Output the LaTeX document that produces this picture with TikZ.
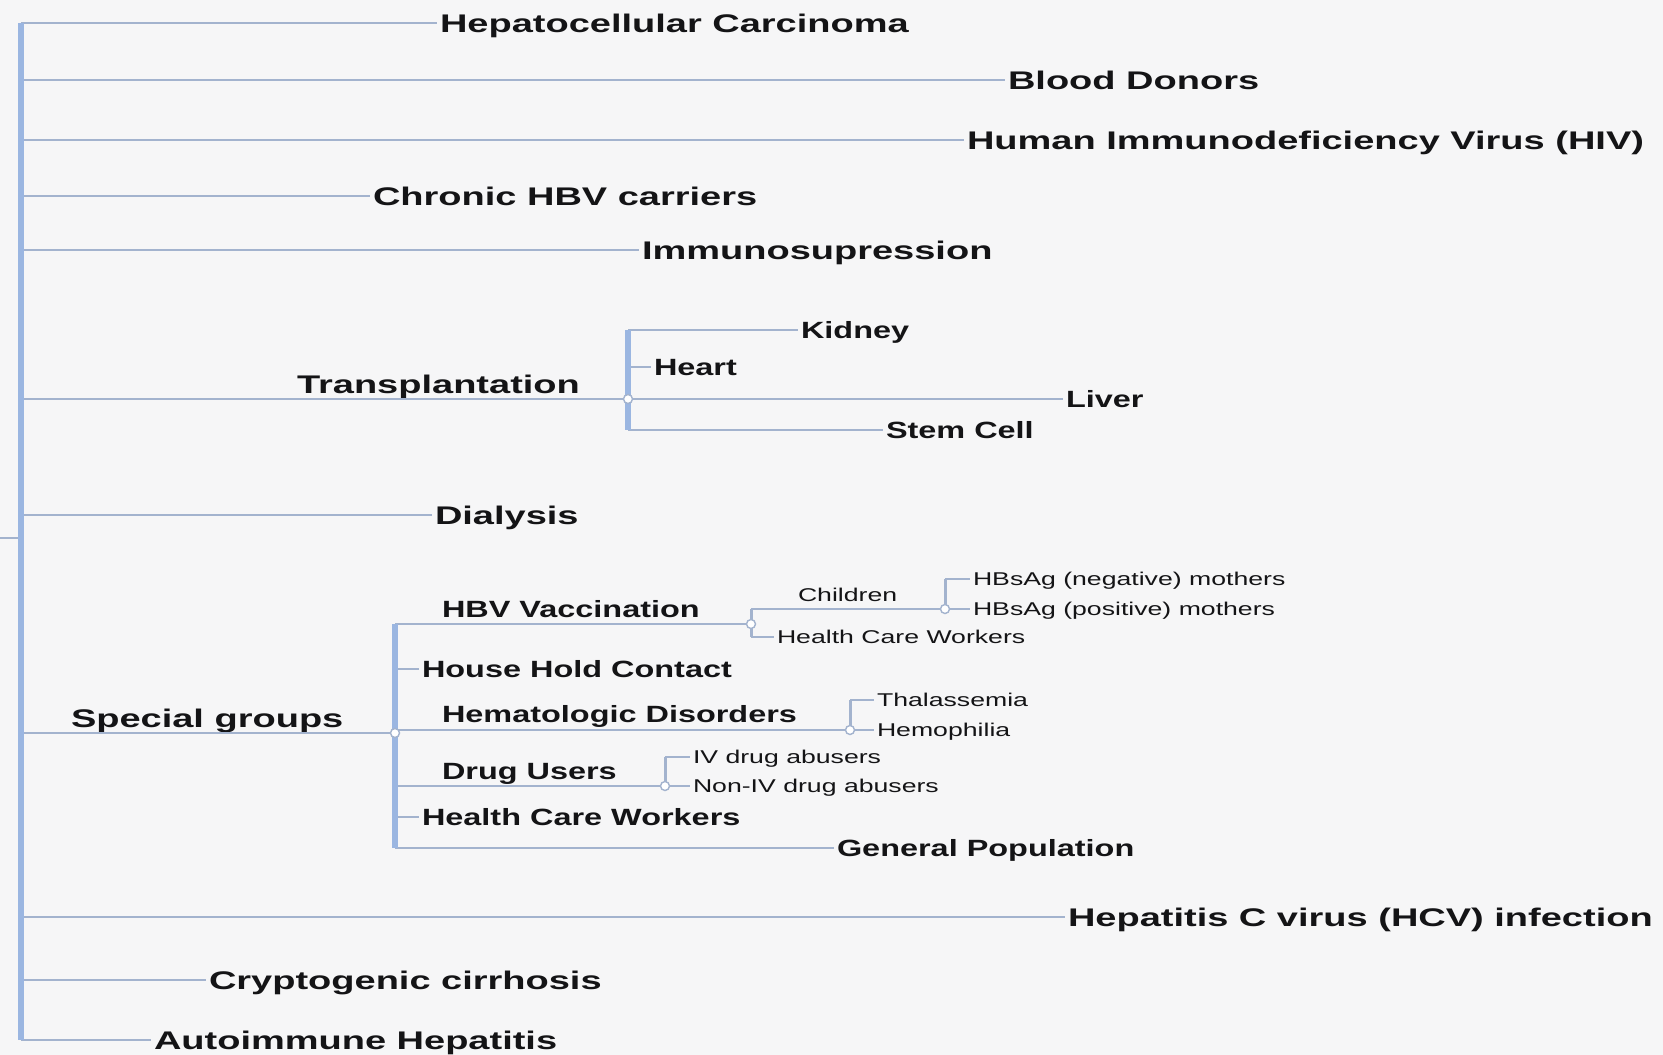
\documentclass[tikz,border=0pt]{standalone}
\usepackage{fontspec}
\usepackage{graphicx}
\setmainfont{Liberation Sans}
\definecolor{bgc}{RGB}{246,246,247}
\definecolor{linec}{RGB}{163,179,206}
\definecolor{hubc}{RGB}{155,182,225}
\definecolor{txtc}{RGB}{20,20,22}
\newcommand\Lone[1]{\scalebox{1.49}[1]{\fontsize{25.5}{26}\selectfont\bfseries #1}}
\newcommand\Ltwo[1]{\scalebox{1.38}[1]{\fontsize{23.5}{24}\selectfont\bfseries #1}}
\newcommand\Lsm[1]{\scalebox{1.44}[1]{\fontsize{18.5}{19}\selectfont #1}}
\tikzset{
  lbl/.style={inner xsep=3pt, inner ysep=0pt, outer sep=0pt, text depth=0pt, text=txtc},
  l1/.style={lbl, text height=18.3pt},
  l2/.style={lbl, text height=16.8pt},
  ls/.style={lbl, text height=13.2pt},
  br/.style={draw=linec, line width=2pt},
  brs/.style={draw=linec, line width=1.6pt},
  trunkline/.style={draw=hubc, line width=6.5pt},
  hubline/.style={draw=hubc, line width=5.5pt},
  hubsmall/.style={draw=linec, line width=3pt},
  hubdot/.style={circle, minimum size=9pt, inner sep=0pt, fill=white, draw=linec, line width=1.4pt}
}
\begin{document}
\begin{tikzpicture}[x=1pt,y=-1pt]
\fill[bgc] (0,0) rectangle (1663,1055);
\useasboundingbox (0,0) rectangle (1663,1055);

% main trunk
\coordinate (trunkT) at (21,23);
\coordinate (trunkB) at (21,1040);
\coordinate (root) at (0,538);

% level 1 labels
\node[l1,anchor=west] (hcc) at (437,23) {\Lone{Hepatocellular Carcinoma}};
\node[l1,anchor=west] (bd) at (1005,80) {\Lone{Blood Donors}};
\node[l1,anchor=west] (hiv) at (964,140) {\Lone{Human Immunodeficiency Virus (HIV)}};
\node[l1,anchor=west] (chr) at (370,196) {\Lone{Chronic HBV carriers}};
\node[l1,anchor=west] (imm) at (639,250) {\Lone{Immunosupression}};
\node[l1,anchor=south west] (tr) at (294,393) {\Lone{Transplantation}};
\node[l1,anchor=west] (dia) at (432,515) {\Lone{Dialysis}};
\node[l1,anchor=south west] (sg) at (68,727) {\Lone{Special groups}};
\node[l1,anchor=west] (hcv) at (1065,917) {\Lone{Hepatitis C virus (HCV) infection}};
\node[l1,anchor=west] (cry) at (206,980) {\Lone{Cryptogenic cirrhosis}};
\node[l1,anchor=west] (aut) at (151,1040) {\Lone{Autoimmune Hepatitis}};

% transplantation hub
\coordinate (th) at (628,399);
\coordinate (thT) at (628,330);
\coordinate (thB) at (628,430);
\node[l2,anchor=west] (kid) at (798,330) {\Ltwo{Kidney}};
\node[l2,anchor=west] (heart) at (651,367) {\Ltwo{Heart}};
\node[l2,anchor=west] (liver) at (1063,399) {\Ltwo{Liver}};
\node[l2,anchor=west] (stem) at (883,430) {\Ltwo{Stem Cell}};

% special groups hub
\coordinate (sh) at (395,733);
\coordinate (shT) at (395,624);
\coordinate (shB) at (395,848);
\node[l2,anchor=south west] (hbv) at (439,617) {\Ltwo{HBV Vaccination}};
\node[l2,anchor=west] (hhc) at (419,669) {\Ltwo{House Hold Contact}};
\node[l2,anchor=south west] (hem) at (439,722) {\Ltwo{Hematologic Disorders}};
\node[l2,anchor=south west] (drug) at (439,779) {\Ltwo{Drug Users}};
\node[l2,anchor=west] (hcw) at (419,817) {\Ltwo{Health Care Workers}};
\node[l2,anchor=west] (gp) at (834,848) {\Ltwo{General Population}};

% HBV vaccination sub hub
\coordinate (vh) at (751,624);
\coordinate (vhT) at (751,609);
\coordinate (vhB) at (751,637);
\node[ls,anchor=south west] (chl) at (795,601) {\Lsm{Children}};
\coordinate (ch) at (945,609);
\coordinate (chT) at (945,579);
\node[ls,anchor=west] (neg) at (970,579) {\Lsm{HBsAg (negative) mothers}};
\node[ls,anchor=west] (pos) at (970,609) {\Lsm{HBsAg (positive) mothers}};
\node[ls,anchor=west] (hcw2) at (774,637) {\Lsm{Health Care Workers}};

% hematologic sub hub
\coordinate (hh) at (850,730);
\coordinate (hhT) at (850,700);
\node[ls,anchor=west] (thal) at (874,700) {\Lsm{Thalassemia}};
\node[ls,anchor=west] (hemo) at (874,730) {\Lsm{Hemophilia}};

% drug users sub hub
\coordinate (dh) at (665,786);
\coordinate (dhT) at (665,757);
\node[ls,anchor=west] (iv) at (690,757) {\Lsm{IV drug abusers}};
\node[ls,anchor=west] (niv) at (690,786) {\Lsm{Non-IV drug abusers}};

% level 1 connectors
\draw[br] (root) -- (root -| trunkT);
\foreach \n in {hcc,bd,hiv,chr,imm,dia,hcv,cry,aut}
  \draw[br] (trunkT |- \n.west) -- (\n.west);
\draw[br] (trunkT |- th) -- (th);
\draw[br] (trunkT |- sh) -- (sh);

% transplantation connectors
\draw[br] (thT) -- (kid.west);
\draw[br] (th |- heart.west) -- (heart.west);
\draw[br] (th) -- (liver.west);
\draw[br] (thB) -- (stem.west);

% special groups connectors
\draw[br] (shT) -- (vh);
\draw[br] (sh |- hhc.west) -- (hhc.west);
\draw[br] (sh |- hh) -- (hh);
\draw[br] (sh |- dh) -- (dh);
\draw[br] (sh |- hcw.west) -- (hcw.west);
\draw[br] (shB) -- (gp.west);

% small connectors
\draw[brs] (vhT) -- (ch);
\draw[brs] (vhB) -- (hcw2.west);
\draw[brs] (chT) -- (neg.west);
\draw[brs] (ch) -- (pos.west);
\draw[brs] (hhT) -- (thal.west);
\draw[brs] (hh) -- (hemo.west);
\draw[brs] (dhT) -- (iv.west);
\draw[brs] (dh) -- (niv.west);

% hub verticals
\draw[trunkline] (trunkT) -- (trunkB);
\draw[hubline] (thT) -- (thB);
\draw[hubline] (shT) -- (shB);
\draw[hubsmall] (vhT) -- (vhB);
\draw[hubsmall] (chT) -- (ch);
\draw[hubsmall] (hhT) -- (hh);
\draw[hubsmall] (dhT) -- (dh);

% junction dots
\foreach \c in {th,sh,vh,ch,hh,dh}
  \node[hubdot] at (\c) {};
\end{tikzpicture}
\end{document}
